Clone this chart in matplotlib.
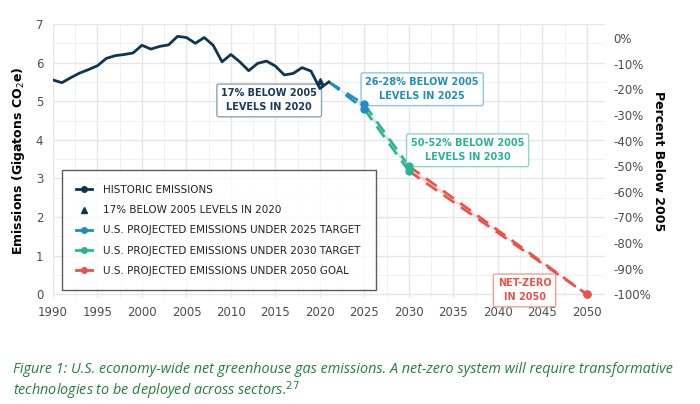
import matplotlib.pyplot as plt
from matplotlib.lines import Line2D
import numpy as np

# historic net emissions (Gt CO2e)
hist_years = list(range(1990, 2022))
hist_vals = [5.55, 5.48, 5.61, 5.73, 5.82, 5.92, 6.11, 6.18, 6.21, 6.25,
             6.45, 6.35, 6.42, 6.46, 6.68, 6.65, 6.50, 6.65, 6.45, 6.02,
             6.21, 6.02, 5.79, 5.98, 6.04, 5.91, 5.68, 5.72, 5.87, 5.78,
             5.33, 5.50]

target_2020 = 5.52

# projected ranges (upper, lower)
p25_years = [2021, 2025]
p25_hi = [5.50, 4.92]
p25_lo = [5.50, 4.79]
p30_years = [2025, 2030]
p30_hi = [4.92, 3.32]
p30_lo = [4.79, 3.19]
p50_years = [2030, 2050]
p50_hi = [3.32, 0.0]
p50_lo = [3.19, 0.0]

base_2005 = 6.635

navy = '#0e3553'
blue = '#1f8fbf'
green = '#2bb394'
red = '#e8534b'

fig = plt.figure(figsize=(7.0, 4.04), dpi=100)
ax = fig.add_axes([0.0757, 0.262, 0.788, 0.6786])

ax.set_xlim(1990, 2052)
ax.set_ylim(-0.1, 7.0)
ax.set_xticks(range(1990, 2051, 5))
ax.set_xticks(np.arange(1992.5, 2052, 5), minor=True)
ax.set_yticks(range(0, 8))
ax.set_yticks(np.arange(0.5, 7, 1), minor=True)
ax.grid(which='major', color='#e6e6e6', lw=1.0)
ax.grid(which='minor', color='#efefef', lw=0.6)
ax.set_axisbelow(True)
for s in ax.spines.values():
    s.set_visible(False)
ax.tick_params(which='both', length=0, labelsize=8.5, labelcolor='#4d4d4d')
ax.tick_params(axis='x', pad=6)
ax.tick_params(axis='y', pad=7)
ax.set_ylabel('Emissions (Gigatons CO$_2$e)', fontsize=9, fontweight='bold', labelpad=6)

# projections
for yrs, hi, lo, c in [(p25_years, p25_hi, p25_lo, blue),
                       (p30_years, p30_hi, p30_lo, green),
                       (p50_years, p50_hi, p50_lo, red)]:
    ax.fill_between(yrs, lo, hi, color=c, alpha=0.2, lw=0, zorder=2)
    ax.plot(yrs, hi, color=c, lw=1.9, ls=(0, (5, 3)), zorder=3)
    ax.plot(yrs, lo, color=c, lw=1.9, ls=(0, (5, 3)), zorder=3)
    ax.plot([yrs[-1], yrs[-1]], [hi[-1], lo[-1]], 'o', color=c, ms=5, zorder=4)

ax.plot(hist_years, hist_vals, color=navy, lw=2, zorder=5)
ax.plot([2020], [target_2020], '^', color=navy, ms=5, zorder=6)

# annotations
ann_kw = dict(fontsize=7, fontweight='bold', ha='center', va='center', linespacing=1.5)
ax.text(2014.3, 5.02, '17% BELOW 2005\nLEVELS IN 2020', color='#1b3a5c',
        bbox=dict(boxstyle='round,pad=0.45,rounding_size=0.2', fc='white', ec='#8aa3b5', lw=1), **ann_kw)
ax.text(2031.5, 5.31, '26-28% BELOW 2005\nLEVELS IN 2025', color=blue,
        bbox=dict(boxstyle='round,pad=0.45,rounding_size=0.2', fc='white', ec='#8cc6e0', lw=1), **ann_kw)
ax.text(2036.6, 3.73, '50-52% BELOW 2005\nLEVELS IN 2030', color=green,
        bbox=dict(boxstyle='round,pad=0.45,rounding_size=0.2', fc='white', ec='#8fd8c6', lw=1), **ann_kw)
ax.text(2043.0, 0.1, 'NET-ZERO\nIN 2050', color=red,
        bbox=dict(boxstyle='round,pad=0.45,rounding_size=0.2', fc='white', ec='#f0a09b', lw=1), **ann_kw)

# right axis in percent below 2005
ax2 = ax.twinx()
lo_y, hi_y = ax.get_ylim()
ax2.set_ylim((lo_y / base_2005 - 1) * 100, (hi_y / base_2005 - 1) * 100)
pct_ticks = list(range(-100, 1, 10))
ax2.set_yticks(pct_ticks)
ax2.set_yticklabels(['%d%%' % p for p in pct_ticks])
for s in ax2.spines.values():
    s.set_visible(False)
ax2.tick_params(length=0, labelsize=8.5, labelcolor='#4d4d4d', pad=6)
ax2.set_ylabel('Percent Below 2005', fontsize=9, fontweight='bold', rotation=270, labelpad=10)

# legend
handles = [
    Line2D([], [], color=navy, lw=2, marker='o', ms=4),
    Line2D([], [], color=navy, lw=0, marker='^', ms=4),
    Line2D([], [], color=blue, lw=2, marker='o', ms=4),
    Line2D([], [], color=green, lw=2, marker='o', ms=4),
    Line2D([], [], color=red, lw=2, marker='o', ms=4),
]
labels = ['HISTORIC EMISSIONS',
          '17% BELOW 2005 LEVELS IN 2020',
          'U.S. PROJECTED EMISSIONS UNDER 2025 TARGET',
          'U.S. PROJECTED EMISSIONS UNDER 2030 TARGET',
          'U.S. PROJECTED EMISSIONS UNDER 2050 GOAL']
leg = ax.legend(handles, labels, loc='lower left', bbox_to_anchor=(0.016, 0.028),
                fontsize=7.5, frameon=True, fancybox=False, edgecolor='#333333',
                handlelength=1.5, borderpad=1.4, labelspacing=0.98, handletextpad=1.1,
                borderaxespad=0)
leg.get_frame().set_linewidth(1.0)
for t in leg.get_texts():
    t.set_color('#222222')
leg.set_zorder(10)

# caption
cap_kw = dict(color='#23803c', fontsize=10.4, style='italic', family='Open Sans')
fig.text(0.019, 0.076, 'Figure 1: U.S. economy-wide net greenhouse gas emissions. A net-zero system will require transformative', **cap_kw)
fig.text(0.019, 0.022, 'technologies to be deployed across sectors.$^{27}$', **cap_kw)

fig.savefig('out.png', dpi=100)
